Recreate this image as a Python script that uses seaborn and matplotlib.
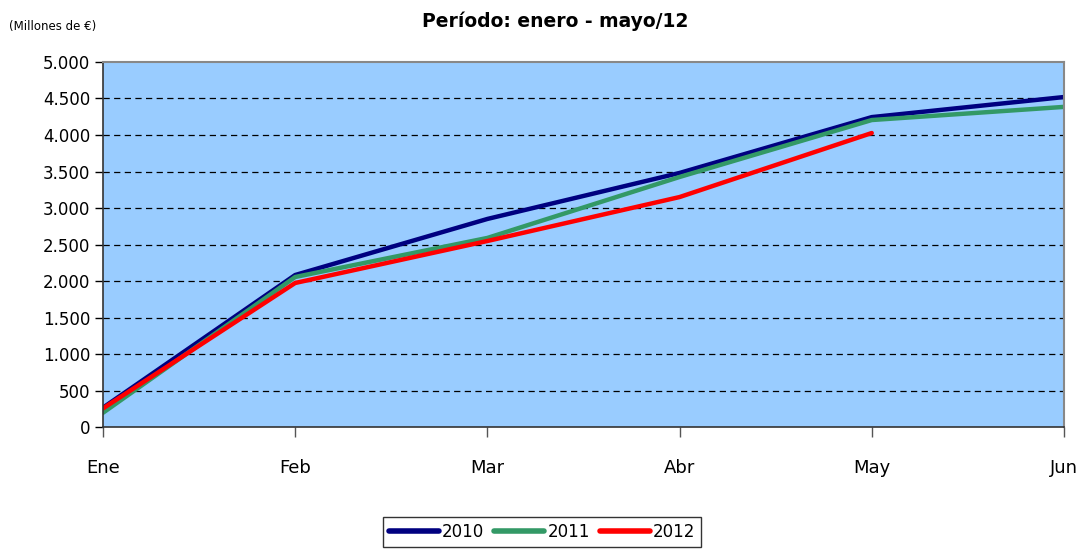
import pandas as pd
import matplotlib
matplotlib.use("Agg")
import matplotlib.pyplot as plt
import seaborn as sns

meses = ["Ene", "Feb", "Mar", "Abr", "May", "Jun"]
v2010 = [265, 2082, 2850, 3480, 4245, 4520]
v2011 = [195, 2055, 2590, 3425, 4205, 4385]
v2012 = [255, 1973, 2548, 3150, 4027]
colores = {"2010": "#000080", "2011": "#339966", "2012": "#FF0000"}

filas = []
for anio, vals in [("2010", v2010), ("2011", v2011), ("2012", v2012)]:
    for i, v in enumerate(vals):
        filas.append({"mes": i, "valor": v, "anio": anio})
df = pd.DataFrame(filas)

sns.set_style("white")
plt.rcParams['font.family'] = ['DejaVu Sans']
plt.rcParams['text.color'] = 'black'
plt.rcParams['xtick.color'] = 'black'
plt.rcParams['ytick.color'] = 'black'

fig = plt.figure(figsize=(10.84, 5.54), dpi=100)
ax = fig.add_axes([0.095, 0.2292, 0.8865, 0.6589])
ax.set_facecolor("#99CCFF")

sns.lineplot(data=df, x="mes", y="valor", hue="anio", palette=colores,
             linewidth=3.2, ax=ax, legend=False, solid_capstyle="round")

ax.set_xlim(0, 5)
ax.set_ylim(0, 5000)
ax.set_yticks(range(0, 5001, 500))
ax.set_yticklabels([f"{v:,}".replace(",", ".") for v in range(0, 5001, 500)], fontsize=12)
ax.set_xticks(range(len(meses)))
ax.set_xticklabels(meses, fontsize=13)
ax.tick_params(axis="y", length=6, width=1, color="black", pad=3, left=True)
ax.tick_params(axis="x", length=7, width=1, color="#555555", pad=16, bottom=True)
for y in range(500, 5000, 500):
    ax.axhline(y, color="black", lw=0.9, ls=(0, (5, 3.5)), zorder=1)
ax.set_xlabel("")
ax.set_ylabel("")
for s in ["top", "right"]:
    ax.spines[s].set_color("#888888")
    ax.spines[s].set_linewidth(1.5)
for s in ["left", "bottom"]:
    ax.spines[s].set_color("#333333")
    ax.spines[s].set_linewidth(1.2)

fig.text(0.512, 0.962, "Período: enero - mayo/12", ha="center", va="center",
         fontsize=13.5, fontweight="bold")
fig.text(0.008, 0.953, "(Millones de €)", ha="left", va="center", fontsize=8.5)

handles = [plt.Line2D([0], [0], color=colores[k], lw=4, solid_capstyle="round") for k in colores]
leg = fig.legend(handles, list(colores.keys()), loc="center", bbox_to_anchor=(0.5, 0.04),
                 ncol=3, fontsize=12, frameon=True, fancybox=False, handlelength=3.0,
                 handletextpad=0.2, columnspacing=0.6, borderpad=0.35)
leg.get_frame().set_edgecolor("black")
leg.get_frame().set_linewidth(1)

fig.savefig("out.png", dpi=100)
